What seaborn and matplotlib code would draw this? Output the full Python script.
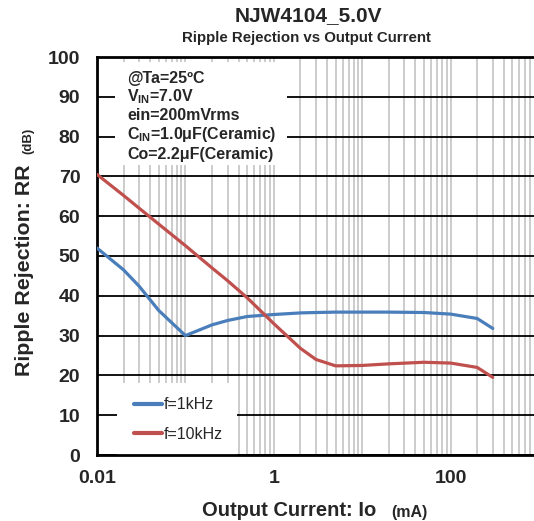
import matplotlib
matplotlib.use("Agg")
import matplotlib.pyplot as plt
import matplotlib.ticker as mticker
from matplotlib.patches import Rectangle
import numpy as np
import pandas as pd
import seaborn as sns

# ---- data ----
io_ma = [0.01, 0.02, 0.03, 0.05, 0.1, 0.2, 0.3, 0.5, 1, 2, 3, 5, 10, 20, 50, 100, 200, 300]
rr_1k = [52.0, 46.5, 42.4, 36.3, 30.0, 32.7, 33.8, 34.8, 35.3, 35.7, 35.8, 35.9, 35.9, 35.9, 35.8, 35.4, 34.3, 31.8]
rr_10k = [70.5, 65.2, 62.0, 58.0, 52.6, 47.0, 43.8, 39.5, 33.0, 26.8, 24.0, 22.4, 22.5, 22.9, 23.3, 23.1, 22.0, 19.5]
series_names = ["f=1kHz", "f=10kHz"]
series_colors = ["#4A7EBB", "#C0504D"]
x_ticks = [0.01, 0.1, 1, 10, 100, 1000]
x_tick_labels = ["0.01", "", "1", "", "100", ""]
y_ticks = list(range(0, 101, 10))
cond_lines = [r"@Ta=25ºC", r"V$_{\mathbf{IN}}$=7.0V", r"ein=200mVrms",
              r"C$_{\mathbf{IN}}$=1.0μF(Ceramic)", r"Co=2.2μF(Ceramic)"]

df = pd.DataFrame({
    "Io": io_ma * 2,
    "RR": rr_1k + rr_10k,
    "f": [series_names[0]] * len(io_ma) + [series_names[1]] * len(io_ma),
})

sns.set_theme(style="white")
plt.rcParams["font.family"] = ["Liberation Sans", "DejaVu Sans"]
plt.rcParams["mathtext.fontset"] = "custom"
plt.rcParams["mathtext.rm"] = "Liberation Sans:bold"
plt.rcParams["mathtext.bf"] = "Liberation Sans:bold"
plt.rcParams["mathtext.it"] = "Liberation Sans:bold"

W, H = 534, 521
fig = plt.figure(figsize=(W / 100, H / 100), dpi=100)
L, R, T, B = 97, 539, 57, 455
ax = fig.add_axes([L / W, 1 - B / H, (R - L) / W, (B - T) / H])

sns.lineplot(data=df, x="Io", y="RR", hue="f", palette=series_colors,
             linewidth=2.3, ax=ax, legend=True, zorder=3)

ax.set_xscale("log")
ax.set_xlim(0.01, 1000)
ax.set_ylim(0, 100)
ax.set_xticks(x_ticks)
ax.set_xticklabels(x_tick_labels)
ax.xaxis.set_minor_locator(mticker.LogLocator(base=10, subs=np.arange(2, 10)))
ax.xaxis.set_minor_formatter(mticker.NullFormatter())
ax.set_yticks(y_ticks)
ax.yaxis.set_minor_locator(mticker.MultipleLocator(2))

ax.set_axisbelow(True)
ax.grid(which="both", axis="x", color="#c4c4c4", linewidth=1.2)
ax.grid(which="major", axis="y", color="black", linewidth=1.3)

for s in ["left", "bottom", "top", "right"]:
    ax.spines[s].set_visible(True)
    ax.spines[s].set_color("black")
    ax.spines[s].set_linewidth(2)

ax.tick_params(axis="both", which="both", direction="in", color="black")
ax.tick_params(axis="both", which="major", length=5, width=1.2, labelsize=14)
ax.tick_params(axis="both", which="minor", length=4, width=1.0)
ax.tick_params(axis="y", which="major", pad=12)
ax.tick_params(axis="x", which="major", pad=11)
for lab in ax.get_xticklabels() + ax.get_yticklabels():
    lab.set_fontweight("bold")
ax.set_xlabel("")
ax.set_ylabel("")

# white boxes behind condition text and legend
def px_rect(x0, y0, x1, y1):
    return Rectangle(((x0 - L) / (R - L), (B - y1) / (B - T)),
                     (x1 - x0) / (R - L), (y1 - y0) / (B - T),
                     transform=ax.transAxes, facecolor="white", edgecolor="none", zorder=1)

ax.add_patch(px_rect(115, 62, 287, 165))
ax.add_patch(px_rect(117, 383, 237, 455))

# condition text
for i, t in enumerate(cond_lines):
    ax.text((127 - L) / (R - L), (B - (78 + 19 * i)) / (B - T), t,
            transform=ax.transAxes, fontsize=11.5, fontweight="bold",
            ha="left", va="center", zorder=4)

leg = ax.legend(loc="upper left", bbox_to_anchor=((128 - L) / (R - L), (B - 391) / (B - T)),
                frameon=False, fontsize=11.5, handlelength=1.75, handletextpad=0.1,
                labelspacing=0.9, borderaxespad=0)
for line in leg.get_lines():
    line.set_linewidth(3)

# titles
fig.text(308 / W, 1 - 16 / H, "NJW4104_5.0V", ha="center", va="center",
         fontsize=15, fontweight="bold")
fig.text(306 / W, 1 - 38 / H, "Ripple Rejection vs Output Current", ha="center",
         va="center", fontsize=10.8, fontweight="bold")

# axis labels
fig.text(289 / W, 1 - 510 / H, "Output Current: Io", ha="center", va="center",
         fontsize=14.5, fontweight="bold")
fig.text(409 / W, 1 - 512 / H, "(mA)", ha="center", va="center",
         fontsize=11.5, fontweight="bold")
fig.text(25 / W, 1 - 270 / H, "Ripple Rejection: RR", ha="center", va="center",
         fontsize=15.4, fontweight="bold", rotation=90)
fig.text(28 / W, 1 - 141 / H, "(dB)", ha="center", va="center",
         fontsize=9.5, fontweight="bold", rotation=90)

fig.savefig("out.png", dpi=100, facecolor="white")
